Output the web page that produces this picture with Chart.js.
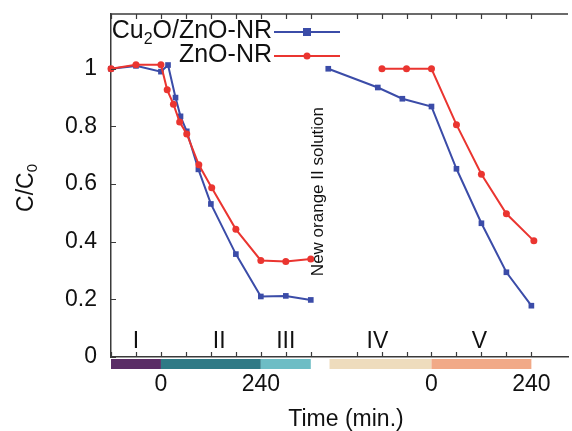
<!DOCTYPE html>
<html>
<head>
<meta charset="utf-8">
<script src="https://cdn.jsdelivr.net/npm/chart.js@4.4.1/dist/chart.umd.min.js"></script>
<style>
  html, body { margin: 0; padding: 0; background: #fff; }
</style>
</head>
<body>
<canvas id="chart" width="572" height="431"></canvas>
<script>
// time axis: first run in minutes, second run (new orange II solution) shifted along the same axis
const SEG2_SHIFT = 650;

// first run
const cuTimeA = [-120, -60, 0, 17, 35, 47, 62, 90, 120, 180, 240, 300, 360];
const cuValA  = [1.0, 1.01, 0.99, 1.013, 0.90, 0.835, 0.783, 0.651, 0.531, 0.357, 0.21, 0.212, 0.198];
const znTimeA = [-120, -60, 0, 15, 30, 45, 62, 91, 122, 180, 240, 300, 360];
const znValA  = [1.0, 1.014, 1.014, 0.927, 0.877, 0.815, 0.774, 0.667, 0.587, 0.443, 0.335, 0.331, 0.340];

// second run
const cuTimeB = [-248, -129, -70, 0, 60, 120, 180, 240];
const cuValB  = [1.0, 0.935, 0.896, 0.869, 0.653, 0.464, 0.294, 0.178];
const znTimeB = [-119, -60, 0, 60, 120, 180, 246];
const znValB  = [1.0, 1.0, 1.0, 0.806, 0.634, 0.497, 0.403];

const tickTimesA = [-120, -60, 0, 60, 120, 180, 240, 300, 360];
const tickTimesB = [-180, -120, -60, 0, 60, 120, 180, 240];
const labelledTimes = [0, 240];
const yTicks = [0, 0.2, 0.4, 0.6, 0.8, 1];

// stage labels and the coloured bars under the axis
const stageNames = ['I', 'II', 'III', 'IV', 'V'];
const stageTimes = [-60, 140, 300, -130, 115];
const stageRun   = ['A', 'A', 'A', 'B', 'B'];
const bandFrom = [-120, 0, 240, -245, 0];
const bandTo   = [0, 240, 360, 0, 240];
const bandRun  = ['A', 'A', 'A', 'B', 'B'];
const bandColors = ['#5a2d66', '#2f7a86', '#6dbdc5', '#eedcbd', '#f1a987'];

const BLUE = '#3b4ca8';
const RED = '#ea3530';
const AXIS = '#3a3a3a';
const FONT = '"Liberation Sans", Arial, sans-serif';

const onAxis = (t, run) => run === 'B' ? t + SEG2_SHIFT : t;
const points = (times, vals, run) => times.map((t, i) => ({ x: onAxis(t, run), y: vals[i] }));

const xTicks = tickTimesA.map(t => onAxis(t, 'A')).concat(tickTimesB.map(t => onAxis(t, 'B')));
const xLabels = new Map();
labelledTimes.forEach(t => {
    xLabels.set(onAxis(t, 'A'), String(t));
    xLabels.set(onAxis(t, 'B'), String(t));
});

function lineSet(data, color, style, radius) {
    return {
        data: data,
        borderColor: color,
        backgroundColor: color,
        borderWidth: 2,
        pointStyle: style,
        pointRadius: radius,
        pointBorderWidth: 0,
        tension: 0,
        clip: false,
    };
}

const decor = {
    id: 'decor',
    afterDraw(chart) {
        const ctx = chart.ctx;
        const x = chart.scales.x, y = chart.scales.y;
        const area = chart.chartArea;
        ctx.save();

        // top frame line
        ctx.strokeStyle = AXIS;
        ctx.lineWidth = 1.5;
        ctx.beginPath();
        ctx.moveTo(area.left, area.top);
        ctx.lineTo(area.right, area.top);
        ctx.stroke();

        // inward tick marks
        ctx.lineWidth = 1.2;
        ctx.beginPath();
        xTicks.forEach(v => {
            const px = Math.round(x.getPixelForValue(v)) + 0.5;
            ctx.moveTo(px, area.bottom);
            ctx.lineTo(px, area.bottom - 5);
            ctx.moveTo(px, area.top);
            ctx.lineTo(px, area.top + 5);
        });
        yTicks.forEach(v => {
            const py = Math.round(y.getPixelForValue(v)) + 0.5;
            ctx.moveTo(area.left, py);
            ctx.lineTo(area.left + 5, py);
        });
        ctx.stroke();

        // coloured bars under the axis
        bandFrom.forEach((from, i) => {
            const x0 = x.getPixelForValue(onAxis(from, bandRun[i]));
            const x1 = x.getPixelForValue(onAxis(bandTo[i], bandRun[i]));
            ctx.fillStyle = bandColors[i];
            ctx.fillRect(x0, area.bottom + 2, x1 - x0, 10);
        });

        // stage numerals
        ctx.fillStyle = '#111';
        ctx.font = '23px ' + FONT;
        ctx.textAlign = 'center';
        ctx.textBaseline = 'alphabetic';
        stageNames.forEach((s, i) => {
            ctx.fillText(s, x.getPixelForValue(onAxis(stageTimes[i], stageRun[i])), y.getPixelForValue(0.032));
        });

        // vertical note between runs
        ctx.save();
        ctx.translate(x.getPixelForValue(378), y.getPixelForValue(0.574));
        ctx.rotate(-Math.PI / 2);
        ctx.font = '17px ' + FONT;
        ctx.textBaseline = 'middle';
        ctx.fillText('New orange II solution', 0, 0);
        ctx.restore();

        // y title C/C0
        ctx.save();
        ctx.translate(27, 188);
        ctx.rotate(-Math.PI / 2);
        ctx.font = '23px ' + FONT;
        ctx.textAlign = 'left';
        ctx.textBaseline = 'middle';
        const w1 = ctx.measureText('C/C').width;
        ctx.font = '15px ' + FONT;
        const w2 = ctx.measureText('0').width;
        const sx = -(w1 + w2) / 2;
        ctx.font = '23px ' + FONT;
        ctx.fillText('C/C', sx, 0);
        ctx.font = '15px ' + FONT;
        ctx.fillText('0', sx + w1, 6);
        ctx.restore();

        // x title
        ctx.font = '23px ' + FONT;
        ctx.textAlign = 'center';
        ctx.textBaseline = 'alphabetic';
        ctx.fillText('Time (min.)', 346, 426);

        // legend
        const rightEdge = 272;
        ctx.textAlign = 'left';
        ctx.font = '25px ' + FONT;
        const partA = ctx.measureText('Cu').width;
        const partC = ctx.measureText('O/ZnO-NR').width;
        ctx.font = '16px ' + FONT;
        const partB = ctx.measureText('2').width;
        let lx = rightEdge - partA - partB - partC;
        ctx.font = '25px ' + FONT;
        ctx.fillText('Cu', lx, 38);
        ctx.font = '16px ' + FONT;
        ctx.fillText('2', lx + partA, 44);
        ctx.font = '25px ' + FONT;
        ctx.fillText('O/ZnO-NR', lx + partA + partB, 38);
        ctx.textAlign = 'right';
        ctx.fillText('ZnO-NR', rightEdge, 62);

        ctx.lineWidth = 2;
        ctx.strokeStyle = BLUE;
        ctx.beginPath();
        ctx.moveTo(274, 32);
        ctx.lineTo(340, 32);
        ctx.stroke();
        ctx.fillStyle = BLUE;
        ctx.fillRect(307 - 4, 32 - 4, 8, 8);
        ctx.strokeStyle = RED;
        ctx.beginPath();
        ctx.moveTo(274, 56);
        ctx.lineTo(340, 56);
        ctx.stroke();
        ctx.fillStyle = RED;
        ctx.beginPath();
        ctx.arc(307, 56, 3.5, 0, Math.PI * 2);
        ctx.fill();

        ctx.restore();
    }
};

new Chart(document.getElementById('chart').getContext('2d'), {
    type: 'line',
    data: {
        datasets: [
            lineSet(points(znTimeA, znValA, 'A'), RED, 'circle', 3.5),
            lineSet(points(znTimeB, znValB, 'B'), RED, 'circle', 3.5),
            lineSet(points(cuTimeA, cuValA, 'A'), BLUE, 'rect', 4),
            lineSet(points(cuTimeB, cuValB, 'B'), BLUE, 'rect', 4),
        ],
    },
    options: {
        responsive: false,
        animation: false,
        layout: { padding: { top: 14, left: 0, right: 0, bottom: 0 } },
        plugins: { legend: { display: false }, tooltip: { enabled: false } },
        scales: {
            x: {
                type: 'linear',
                min: -120,
                max: 978,
                afterBuildTicks: s => { s.ticks = xTicks.map(v => ({ value: v })); },
                afterFit: s => { s.height = 74; s.paddingLeft = 0; s.paddingRight = 0; },
                grid: { display: false, drawTicks: false },
                border: { display: true, color: AXIS, width: 1.5 },
                ticks: {
                    autoSkip: false,
                    maxRotation: 0,
                    padding: 14,
                    color: '#111',
                    font: { family: FONT, size: 23 },
                    callback: v => xLabels.get(v) || '',
                },
            },
            y: {
                min: 0,
                max: 1.19,
                afterBuildTicks: s => { s.ticks = yTicks.map(v => ({ value: v })); },
                afterFit: s => { s.width = 111; s.paddingTop = 0; s.paddingBottom = 0; },
                grid: { display: false, drawTicks: false },
                border: { display: true, color: AXIS, width: 1.5 },
                ticks: {
                    padding: 14,
                    color: '#111',
                    font: { family: FONT, size: 23 },
                    callback: v => String(v),
                },
            },
        },
    },
    plugins: [decor],
});
</script>
</body>
</html>
